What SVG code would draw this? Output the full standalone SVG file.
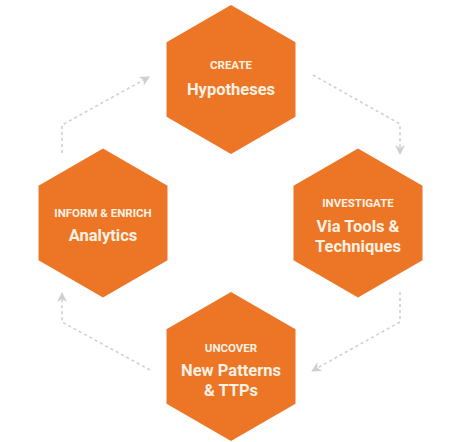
<svg xmlns="http://www.w3.org/2000/svg" width="474" height="442" viewBox="0 0 474 442">
<defs>
<style>
.hex{fill:#EC7625}
.sm{font-family:Roboto,"Liberation Sans",sans-serif;font-weight:bold;font-size:11.5px;fill:#FDF1E4;text-anchor:middle}
.lg{font-family:Roboto,"Liberation Sans",sans-serif;font-weight:bold;font-size:16.5px;fill:#FDF1E4;text-anchor:middle}
.con{fill:none;stroke:#CFCFCF;stroke-width:1.6;stroke-dasharray:3 3;marker-end:url(#ah)}
</style>
<marker id="ah" viewBox="0 0 10 10" refX="9" refY="5" markerWidth="10" markerHeight="10" markerUnits="userSpaceOnUse" orient="auto">
<path d="M0,0 L10,5 L0,10 L3,5 z" fill="#CFCFCF"/>
</marker>
</defs>
<rect width="474" height="442" fill="#FFFFFF"/>
<g id="connectors">
<path class="con" d="M313,75 L400,124 L400,154"/>
<path class="con" d="M400,292 L400,322 L312,371"/>
<path class="con" d="M150,370 L62,322 L62,293"/>
<path class="con" d="M62,153 L62,125 L149,77"/>
</g>
<g id="create">
<polygon class="hex" points="231,5 295.5,42.25 295.5,116.75 231,154 166.5,116.75 166.5,42.25"/>
<text class="sm" x="231" y="69">CREATE</text>
<text class="lg" x="231" y="95">Hypotheses</text>
</g>
<g id="investigate">
<polygon class="hex" points="358,148.5 422.5,185.75 422.5,260.25 358,297.5 293.5,260.25 293.5,185.75"/>
<text class="sm" x="358" y="207">INVESTIGATE</text>
<text class="lg" x="358" y="232">Via Tools &amp;</text>
<text class="lg" x="358" y="252">Techniques</text>
</g>
<g id="uncover">
<polygon class="hex" points="231,292 295.5,329.25 295.5,403.75 231,441 166.5,403.75 166.5,329.25"/>
<text class="sm" x="231" y="352">UNCOVER</text>
<text class="lg" x="231" y="376">New Patterns</text>
<text class="lg" x="231" y="396">&amp; TTPs</text>
</g>
<g id="inform">
<polygon class="hex" points="103,148.5 167.5,185.75 167.5,260.25 103,297.5 38.5,260.25 38.5,185.75"/>
<text class="sm" x="103" y="217">INFORM &amp; ENRICH</text>
<text class="lg" x="103" y="241">Analytics</text>
</g>
</svg>
